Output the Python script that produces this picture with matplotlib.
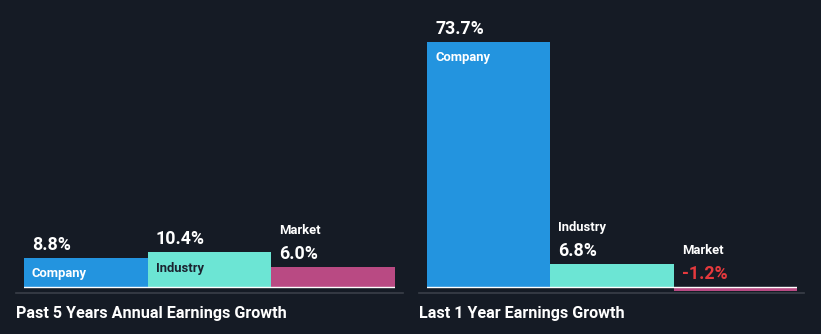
import matplotlib
matplotlib.use("Agg")
import matplotlib.pyplot as plt

plt.rcParams['font.family'] = ['Roboto', 'DejaVu Sans']

categories = ["Company", "Industry", "Market"]
past5_values = [8.8, 10.4, 6.0]
last1_values = [73.7, 6.8, -1.2]
panel_titles = ["Past 5 Years Annual Earnings Growth", "Last 1 Year Earnings Growth"]

BG = "#151b25"
BAR_COLORS = ["#2394df", "#6ce5d4", "#b94a83"]
LABEL_INSIDE_COLORS = ["#ffffff", "#1b2330", "#ffffff"]
NEG_COLOR = "#e5393d"
SEP_COLOR = "#3a3f48"

W, H, DPI = 821, 334, 100
fig = plt.figure(figsize=(W / DPI, H / DPI), dpi=DPI, facecolor=BG)

# pixel layout
base_y = 287            # baseline, pixels from top
px_per_unit = 245 / 73.7
ax_top, ax_bot = 10, 300
ylim_top = (base_y - ax_top) / px_per_unit
ylim_bot = -(ax_bot - base_y) / px_per_unit
panels = [(24, 395, 16, 403), (427, 797, 419, 804)]


def to_fig(x_px, y_px):
    return x_px / W, 1 - y_px / H


for (x0, x1, s0, s1), values, title in zip(panels, [past5_values, last1_values], panel_titles):
    left, bottom = x0 / W, 1 - ax_bot / H
    ax = fig.add_axes([left, bottom, (x1 - x0) / W, (ax_bot - ax_top) / H])
    ax.set_facecolor(BG)
    ax.set_xlim(0, len(categories))
    ax.set_ylim(ylim_bot, ylim_top)
    ax.axis("off")
    xs = list(range(len(categories)))
    ax.bar(xs, values, width=1.0, align="edge", color=BAR_COLORS, linewidth=0)
    ax.axhline(0, color="#ffffff", lw=1.0, zorder=3)

    for i, (cat, v) in enumerate(zip(categories, values)):
        top = max(v, 0)
        val_color = NEG_COLOR if v < 0 else "#ffffff"
        ax.annotate(f"{v:.1f}%", (i, top), xytext=(8, 8), textcoords="offset pixels",
                    ha="left", va="baseline", fontsize=12.8, fontweight="bold", color=val_color)
        bar_px = v * px_per_unit
        if bar_px > 26:
            ax.annotate(cat, (i, top), xytext=(8, -19.5), textcoords="offset pixels",
                        ha="left", va="baseline", fontsize=9.4, fontweight="bold",
                        color=LABEL_INSIDE_COLORS[i])
        else:
            ax.annotate(cat, (i, top), xytext=(8, 33), textcoords="offset pixels",
                        ha="left", va="baseline", fontsize=9.4, fontweight="bold",
                        color="#ffffff")

    # separator line and panel title
    fig.add_artist(plt.Line2D([s0 / W, s1 / W], [1 - 292.5 / H] * 2, color=SEP_COLOR, lw=1.2))
    tx, ty = to_fig(s0, 318)
    fig.text(tx, ty, title, ha="left", va="baseline", fontsize=11.6,
             fontweight="bold", color="#ffffff")

fig.savefig("out.png", dpi=DPI, facecolor=BG)
